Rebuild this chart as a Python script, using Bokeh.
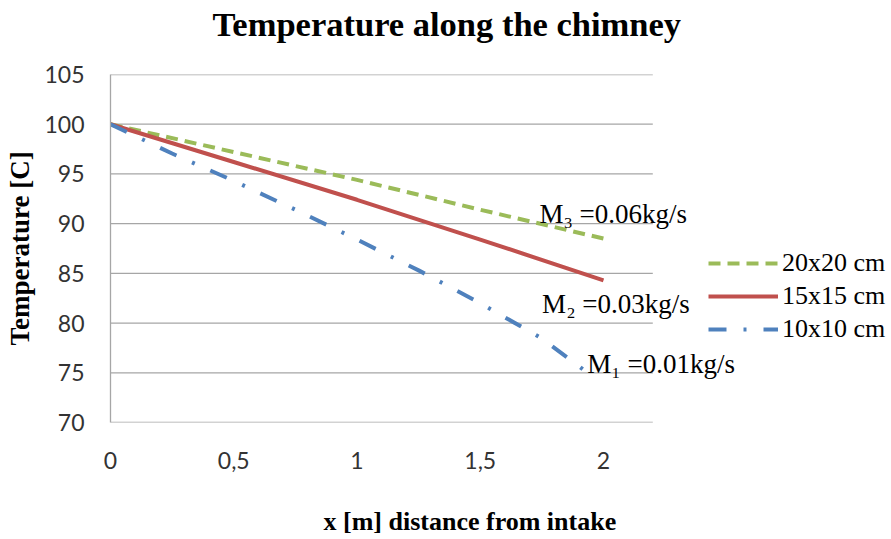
from bokeh.plotting import figure
from bokeh.models import Legend, LegendItem, Label, FixedTicker, Range1d, Title
from bokeh.embed import file_html
from bokeh.resources import INLINE

# ---- data ----
series_names = ["20x20 cm", "15x15 cm", "10x10 cm"]
x_20 = [0, 0.5, 1.0, 1.5, 2.0]
t_20 = [100, 97.2, 94.4, 91.4, 88.5]
x_15 = [0, 0.5, 1.0, 1.5, 2.0]
t_15 = [100, 96.2, 92.4, 88.4, 84.3]
x_10 = [0, 0.25, 0.5, 0.75, 1.0, 1.25, 1.5, 1.75, 1.93]
t_10 = [100, 97.05, 94.3, 91.4, 88.4, 85.3, 82.0, 78.45, 75.1]

x_ticks = [0, 0.5, 1.0, 1.5, 2.0]
x_tick_labels = ["0", "0,5", "1", "1,5", "2"]
y_ticks = [70, 75, 80, 85, 90, 95, 100, 105]
x_axis_max = 2.2   # end of the plotted x axis (gridlines stop here)

notes = ["M\u2083 =0.06kg/s", "M\u2082 =0.03kg/s", "M\u2081 =0.01kg/s"]
note_x = [1.74, 1.751, 1.934]
note_y = [91.0, 81.96, 75.9]

GREEN = "#9BBB59"
RED = "#C0504D"
BLUE = "#4F81BD"
GRID = "#A6A6A6"
SERIF = "Liberation Serif"

W, H = 889, 537
FL, FT, FB = 110, 74, 422          # frame left/top/bottom in px
px_per_unit = 246.5
x_end = (W - FL) / px_per_unit

p = figure(width=W, height=H, output_backend="svg", toolbar_location=None,
           title=None,
           x_range=Range1d(0, x_end), y_range=Range1d(70, 105),
           min_border_left=FL, min_border_right=0, min_border_top=FT,
           min_border_bottom=H - FB)

# spacer between frame and main title, then the title itself
p.add_layout(Title(text=" ", text_font_size="2px", standoff=28), "above")
p.add_layout(Title(text="Temperature along the chimney", text_font=SERIF,
                   text_font_size="34.5px", text_font_style="bold",
                   text_color="#000000", align="left", offset=102, standoff=0),
             "above")

p.outline_line_color = None
p.xgrid.grid_line_color = None
p.ygrid.grid_line_color = None

# horizontal gridlines only across the real x axis span
p.segment(x0=[0] * len(y_ticks), x1=[x_axis_max] * len(y_ticks),
          y0=y_ticks, y1=y_ticks, line_color=GRID, line_width=1.3)

p.xaxis.ticker = FixedTicker(ticks=x_ticks)
p.xaxis.major_label_overrides = {t: l for t, l in zip(x_ticks, x_tick_labels)}
p.yaxis.ticker = FixedTicker(ticks=y_ticks)

for ax in (p.xaxis, p.yaxis):
    ax.axis_line_color = GRID
    ax.axis_line_width = 1.3
    ax.major_tick_line_color = None
    ax.minor_tick_line_color = None
    ax.major_tick_out = 0
    ax.major_tick_in = 0
    ax.minor_tick_out = 0
    ax.major_label_text_font = "Lato"
    ax.major_label_text_font_size = "23px"
    ax.major_label_text_color = "#333333"
    ax.axis_label_text_font = SERIF
    ax.axis_label_text_font_size = "27px"
    ax.axis_label_text_font_style = "bold"
    ax.axis_label_text_color = "#000000"

p.xaxis.axis_line_color = None
p.yaxis.axis_label = "Temperature [C]"
p.xaxis.major_label_standoff = 29
p.yaxis.major_label_standoff = 26
p.yaxis.axis_label_standoff = 6

# spacer below the tick labels, then the x axis title
p.add_layout(Title(text=" ", text_font_size="2px", standoff=29), "below")
p.add_layout(Title(text="x [m] distance from intake", text_font=SERIF,
                   text_font_size="26px", text_font_style="bold",
                   text_color="#000000", align="left", offset=213, standoff=0),
             "below")

r20 = p.line(x_20, t_20, line_color=GREEN, line_width=4, line_dash="12 7")
r15 = p.line(x_15, t_15, line_color=RED, line_width=4)
r10 = p.line(x_10, t_10, line_color=BLUE, line_width=4, line_dash="18 17 3 17")

for txt, lx, ly in zip(notes, note_x, note_y):
    p.add_layout(Label(x=lx, y=ly, text=txt, text_font=SERIF, text_font_size="27px",
                       text_color="#000000", text_baseline="alphabetic"))

legend = Legend(items=[LegendItem(label=series_names[0], renderers=[r20]),
                       LegendItem(label=series_names[1], renderers=[r15]),
                       LegendItem(label=series_names[2], renderers=[r10])],
                location=(598, 78), padding=0, spacing=3,
                glyph_width=70, glyph_height=30, label_standoff=4,
                label_text_font=SERIF, label_text_font_size="26px",
                label_text_color="#000000",
                border_line_color=None, background_fill_alpha=0)
p.add_layout(legend, "center")

open("out.html", "w").write(file_html(p, INLINE))
